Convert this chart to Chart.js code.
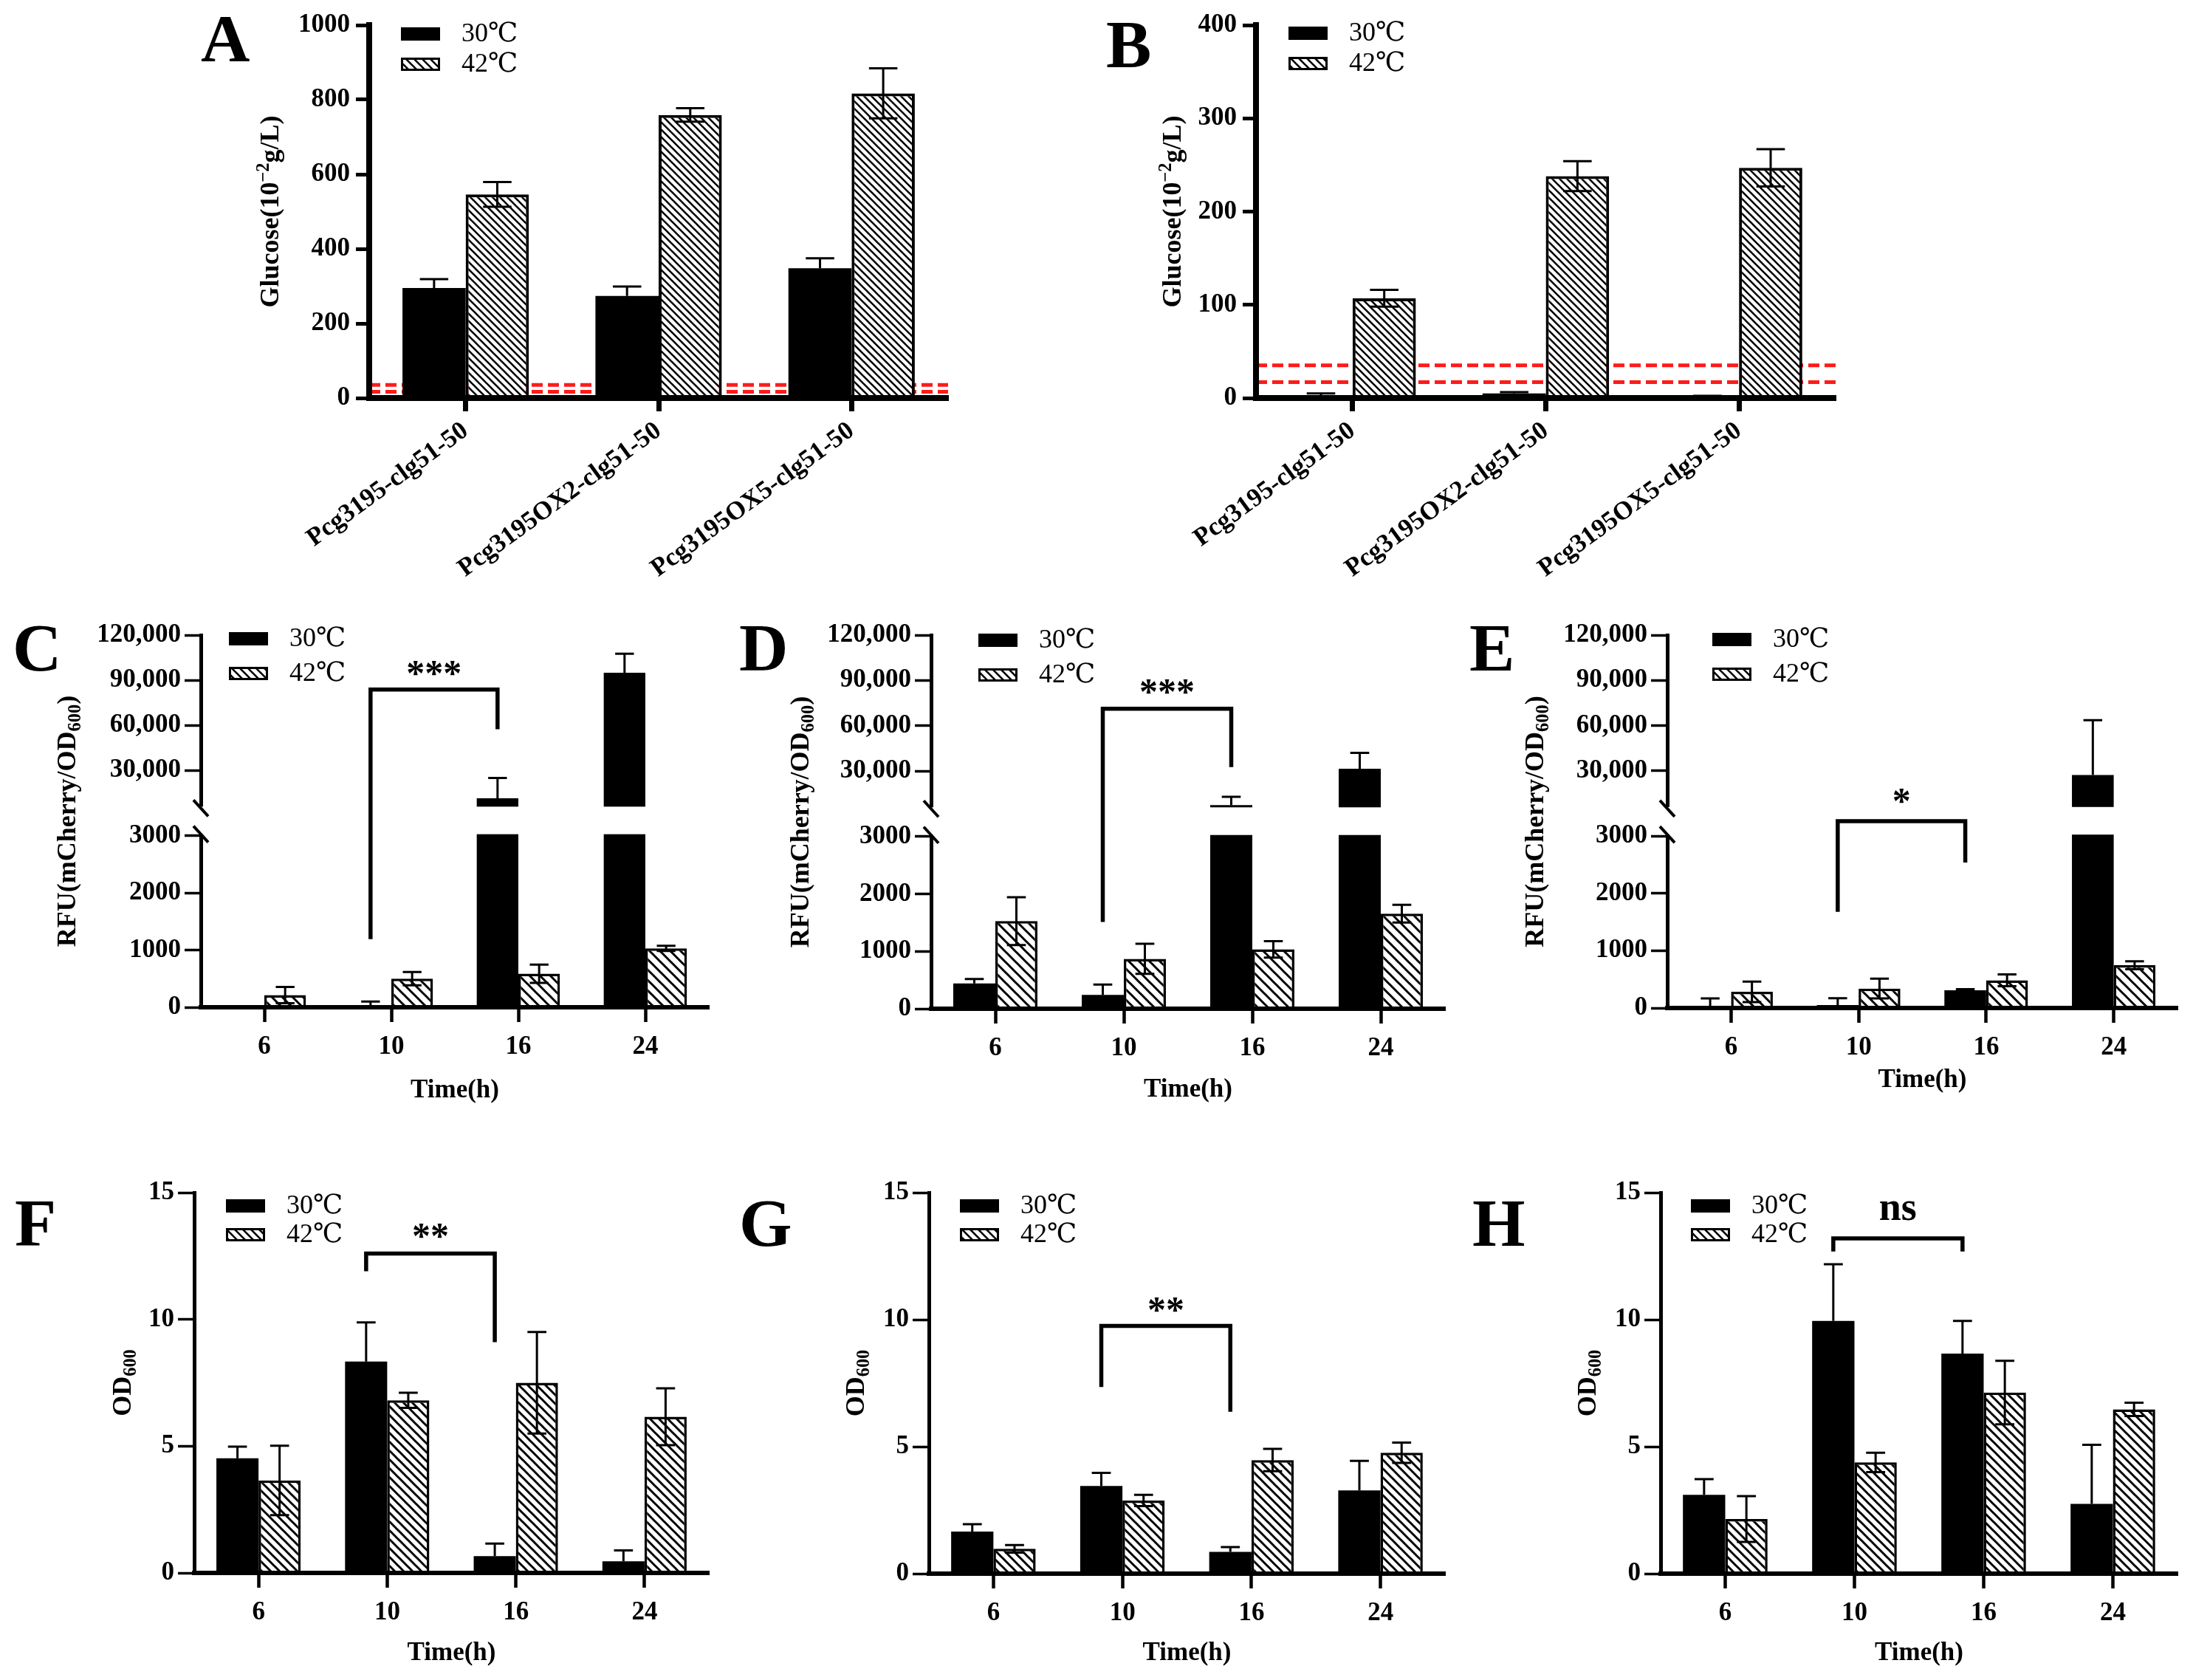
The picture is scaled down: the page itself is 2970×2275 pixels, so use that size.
<!DOCTYPE html>
<html>
<head>
<meta charset="utf-8">
<script src="https://cdn.jsdelivr.net/npm/chart.js@4.4.1/dist/chart.umd.min.js"></script>
<style>
html,body{margin:0;padding:0;background:#fff;}
#page{position:relative;width:2970px;height:2275px;background:#fff;overflow:hidden;}
.letter{position:absolute;font-family:'Liberation Serif','Times New Roman',serif;font-weight:bold;font-size:92px;line-height:1;color:#000;}
</style>
</head>
<body>
<div id="page"></div>
<script>
// ---------------- data ----------------
const glucoseStrains = ['Pcg3195-clg51-50', 'Pcg3195OX2-clg51-50', 'Pcg3195OX5-clg51-50'];
const timeLabels = ['6', '10', '16', '24'];
const legendLabels = ['30\u2103', '42\u2103'];
const panelLetters = ['A', 'B', 'C', 'D', 'E', 'F', 'G', 'H'];

const glucoseA30 = [295, 274, 348];
const glucoseA30Err = [24, 25, 27];
const glucoseA42 = [546, 759, 817];
const glucoseA42Err = [33, 18, 67];

const glucoseB30 = [2.8, 5, 2];
const glucoseB30Err = [2.2, 1.3, 0.3];
const glucoseB42 = [107, 238, 247];
const glucoseB42Err = [9, 16, 20];

const glucoseThresholds = [17, 35];

const rfuC30 = [30, 10, 11600, 95000];
const rfuC30Err = [0, 90, 13400, 12600];
const rfuC42 = [213, 500, 586, 1029];
const rfuC42Err = [143, 115, 161, 46];

const rfuD30 = [440, 241, 7500, 31500];
const rfuD30Err = [77, 179, 5500, 10500];
const rfuD42 = [1526, 869, 1034, 1655];
const rfuD42Err = [417, 262, 144, 155];

const rfuE30 = [0, 52, 310, 27200];
const rfuE30Err = [167, 120, 18, 36400];
const rfuE42 = [282, 339, 483, 747];
const rfuE42Err = [178, 172, 103, 69];

const odF30 = [4.52, 8.34, 0.66, 0.46];
const odF30Err = [0.46, 1.54, 0.5, 0.43];
const odF42 = [3.65, 6.81, 7.5, 6.16];
const odF42Err = [1.37, 0.3, 2.0, 1.12];

const odG30 = [1.66, 3.45, 0.86, 3.28];
const odG30Err = [0.29, 0.52, 0.19, 1.16];
const odG42 = [0.98, 2.88, 4.47, 4.76];
const odG42Err = [0.15, 0.22, 0.44, 0.4];

const odH30 = [3.1, 9.95, 8.66, 2.75];
const odH30Err = [0.62, 2.23, 1.29, 2.32];
const odH42 = [2.15, 4.38, 7.13, 6.47];
const odH42Err = [0.9, 0.38, 1.25, 0.26];

// brackets: [from category, to category, left foot, right foot, top, label, label position]
const bracketC = [1, 2, 1190, 57500, 83800, '***', 98000];
const bracketD = [1, 2, 1510, 32600, 71300, '***', 86000];
const bracketE = [1, 2, 1680, 2540, 4530, '*', 13700];
const bracketF = [1, 2, 11.9, 9.1, 12.6, '**', 13.5];
const bracketG = [1, 2, 7.35, 6.37, 9.75, '**', 10.6];
const bracketH = [1, 2, 12.68, 12.68, 13.2, 'ns', 14.3];

const rfuTicks = [0, 1000, 2000, 3000, 30000, 60000, 90000, 120000];
const rfuBreak = {lowMax: 3000, highMin: 6000, max: 120000};

const glucoseTitle = [['Glucose(10', 0], ['\u22122', 1], ['g/L)', 0]];
const rfuTitle = [['RFU(mCherry/OD', 0], ['600', -1], [')', 0]];
const odTitle = [['OD', 0], ['600', -1]];
const timeTitle = 'Time(h)';

// ---------------- setup ----------------
const FONT = "'Liberation Serif', 'Times New Roman', 'DejaVu Serif', serif";
Chart.defaults.font.family = FONT;
Chart.defaults.color = '#000';

class BrokenLinearScale extends Chart.LinearScale {
  determineDataLimits() {
    this.min = this.options.min;
    this.max = this.options.max;
  }
  buildTicks() {
    return this.options.customTicks.map(v => ({value: v}));
  }
  _frac(value) {
    const b = this.options.brk;
    const f1 = b.lowFrac, f2 = b.lowFrac + b.gapFrac;
    if (value <= b.lowMax) return (value - this.min) / (b.lowMax - this.min) * f1;
    if (value <= b.highMin) return f1 + (value - b.lowMax) / (b.highMin - b.lowMax) * (f2 - f1);
    return f2 + (value - b.highMin) / (this.max - b.highMin) * (1 - f2);
  }
  getPixelForValue(value) {
    return this.getPixelForDecimal(this._frac(value));
  }
  getValueForPixel(pixel) {
    const d = this.getDecimalForPixel(pixel);
    const b = this.options.brk;
    const f1 = b.lowFrac, f2 = b.lowFrac + b.gapFrac;
    if (d <= f1) return this.min + d / f1 * (b.lowMax - this.min);
    if (d <= f2) return b.lowMax + (d - f1) / (f2 - f1) * (b.highMin - b.lowMax);
    return b.highMin + (d - f2) / (1 - f2) * (this.max - b.highMin);
  }
}
BrokenLinearScale.id = 'brokenLinear';
BrokenLinearScale.defaults = {};
Chart.register(BrokenLinearScale);

function hatchPattern(spacing, lw) {
  const c = document.createElement('canvas');
  c.width = spacing; c.height = spacing;
  const g = c.getContext('2d');
  g.fillStyle = '#fff';
  g.fillRect(0, 0, spacing, spacing);
  g.strokeStyle = '#000';
  g.lineWidth = lw;
  for (let k = -1; k <= 1; k++) {
    g.beginPath();
    g.moveTo(-spacing, -spacing + k * spacing);
    g.lineTo(2 * spacing, 2 * spacing + k * spacing);
    g.stroke();
  }
  return g.createPattern(c, 'repeat');
}

function fmtTick(v) {
  const s = String(v);
  if (v < 10000) return s;
  return s.replace(/\B(?=(\d{3})+(?!\d))/g, ',');
}

function drawRich(ctx, segs, cx, cy, fs, rotate) {
  ctx.save();
  ctx.translate(cx, cy);
  if (rotate) ctx.rotate(-Math.PI / 2);
  let total = 0;
  const parts = segs.map(([t, mode]) => {
    const size = mode ? fs * 0.68 : fs;
    ctx.font = `bold ${size}px ${FONT}`;
    const w = ctx.measureText(t).width;
    total += w;
    return {t, mode, size, w};
  });
  let x = -total / 2;
  ctx.textAlign = 'left';
  ctx.textBaseline = 'alphabetic';
  ctx.fillStyle = '#000';
  const base = fs * 0.33;
  for (const p of parts) {
    ctx.font = `bold ${p.size}px ${FONT}`;
    const dy = p.mode === 1 ? -fs * 0.36 : (p.mode === -1 ? fs * 0.2 : 0);
    ctx.fillText(p.t, x, base + dy);
    x += p.w;
  }
  ctx.restore();
}

const thickA = {axisW: [8, 8], tickW: [5, 7], tickLen: [18, 18], barBorder: 4, hatch: 10};
const thinC = {axisW: [5, 6], tickW: [3.5, 4.5], tickLen: [22, 20], barBorder: 3.5};

const panels = [
  Object.assign({canvas: [250, 0, 1080, 840], area: [500, 34, 1284, 539], cats: glucoseStrains,
   s30: glucoseA30, e30: glucoseA30Err, s42: glucoseA42, e42: glucoseA42Err,
   yMax: 1000, yStep: 200, ref: glucoseThresholds, title: glucoseTitle, titleDx: -135,
   legend: [43, 3, 41], rot: 36, letter: [274, 22], tickPad: 8}, thickA),
  Object.assign({canvas: [1460, 0, 1060, 840], area: [1701, 34, 2486, 539], cats: glucoseStrains,
   s30: glucoseB30, e30: glucoseB30Err, s42: glucoseB42, e42: glucoseB42Err,
   yMax: 400, yStep: 100, ref: glucoseThresholds, title: glucoseTitle, titleDx: -114,
   legend: [44, 2, 41], rot: 36, letter: [1500, 30], tickPad: 8}, thickA),
  Object.assign({canvas: [0, 800, 985, 740], area: [272, 860, 960, 1364], cats: timeLabels,
   s30: rfuC30, e30: rfuC30Err, s42: rfuC42, e42: rfuC42Err, broken: true,
   bracket: bracketC, title: rfuTitle, titleDx: -182, xTitleDy: 113,
   legend: [38, -4, 47], hatch: 14, letter: [19, 847], tickPad: 5}, thinC),
  Object.assign({canvas: [985, 800, 995, 740], area: [1261, 860, 1957, 1366], cats: timeLabels,
   s30: rfuD30, e30: rfuD30Err, s42: rfuD42, e42: rfuD42Err, broken: true,
   bracket: bracketD, title: rfuTitle, titleDx: -178, xTitleDy: 110,
   legend: [64, -2, 47], hatch: 14, letter: [1003, 847], tickPad: 5}, thinC),
  Object.assign({canvas: [1980, 800, 990, 740], area: [2258, 860, 2949, 1365], cats: timeLabels,
   s30: rfuE30, e30: rfuE30Err, s42: rfuE42, e42: rfuE42Err, broken: true,
   bracket: bracketE, title: rfuTitle, titleDx: -180, xTitleDy: 98,
   legend: [61, -3, 47], hatch: 14, letter: [1992, 847], tickPad: 5}, thinC),
  Object.assign({canvas: [0, 1545, 985, 730], area: [263, 1615, 960, 2130], cats: timeLabels,
   s30: odF30, e30: odF30Err, s42: odF42, e42: odF42Err, yMax: 15, yStep: 5,
   bracket: bracketF, title: odTitle, titleDx: -98, xTitleDy: 109,
   legend: [43, 9, 39], hatch: 12, letter: [22, 1626], tickPad: 5}, thinC),
  Object.assign({canvas: [985, 1545, 995, 730], area: [1258, 1615, 1957, 2131], cats: timeLabels,
   s30: odG30, e30: odG30Err, s42: odG42, e42: odG42Err, yMax: 15, yStep: 5,
   bracket: bracketG, title: odTitle, titleDx: -100, xTitleDy: 108,
   legend: [42, 9, 39], hatch: 12, letter: [1003, 1626], tickPad: 5}, thinC),
  Object.assign({canvas: [1980, 1545, 990, 730], area: [2249, 1615, 2949, 2131], cats: timeLabels,
   s30: odH30, e30: odH30Err, s42: odH42, e42: odH42Err, yMax: 15, yStep: 5,
   bracket: bracketH, title: odTitle, titleDx: -100, xTitleDy: 108,
   legend: [41, 9, 39], hatch: 12, letter: [1996, 1626], tickPad: 5}, thinC)
];

const page = document.getElementById('page');

function deco(p, legendPattern) {
  return {
    id: 'deco',
    beforeDatasetsDraw(chart) {
      if (!p.ref) return;
      const {ctx, chartArea: a} = chart;
      const y = chart.scales.y;
      ctx.save();
      ctx.strokeStyle = '#ff1a1a';
      ctx.lineWidth = 5;
      ctx.setLineDash([15, 7]);
      for (const v of p.ref) {
        const py = y.getPixelForValue(v);
        ctx.beginPath();
        ctx.moveTo(a.left, py);
        ctx.lineTo(a.right, py);
        ctx.stroke();
      }
      ctx.restore();
    },
    afterDatasetsDraw(chart) {
      const {ctx} = chart;
      const y = chart.scales.y;
      ctx.save();
      ctx.strokeStyle = '#000';
      ctx.lineWidth = 3;
      chart.data.datasets.forEach((ds, i) => {
        const meta = chart.getDatasetMeta(i);
        meta.data.forEach((bar, j) => {
          const v = ds.data[j], e = ds.errorBars[j];
          if (!e) return;
          const x = bar.x, cap = bar.width * 0.45;
          const yTop = y.getPixelForValue(v + e);
          const low = Math.max(v - e, 0);
          const yBot = ds.bothSides ? y.getPixelForValue(low) : y.getPixelForValue(v);
          ctx.beginPath();
          ctx.moveTo(x, yBot);
          ctx.lineTo(x, yTop);
          ctx.moveTo(x - cap / 2, yTop);
          ctx.lineTo(x + cap / 2, yTop);
          if (ds.bothSides && low > 0) {
            ctx.moveTo(x - cap / 2, yBot);
            ctx.lineTo(x + cap / 2, yBot);
          }
          ctx.stroke();
        });
      });
      ctx.restore();
    },
    afterDraw(chart) {
      const {ctx, chartArea: a} = chart;
      const y = chart.scales.y;
      ctx.save();
      if (p.broken) {
        const p3 = y.getPixelForValue(rfuBreak.lowMax);
        const p6 = y.getPixelForValue(rfuBreak.highMin);
        ctx.fillStyle = '#fff';
        ctx.fillRect(a.left - 4, p6, a.right - a.left + 10, p3 - p6 - 2);
        ctx.strokeStyle = '#000';
        ctx.lineWidth = 4;
        for (const py of [p3 - 2, p6 + 2]) {
          ctx.beginPath();
          ctx.moveTo(a.left - 10, py - 11);
          ctx.lineTo(a.left + 10, py + 11);
          ctx.stroke();
        }
      }
      if (p.bracket) {
        const [i1, i2, f1, f2, top, label, ly] = p.bracket;
        const bars = chart.getDatasetMeta(0).data;
        const x1 = bars[i1].x, x2 = bars[i2].x;
        ctx.strokeStyle = '#000';
        ctx.lineWidth = 5.5;
        ctx.lineJoin = 'miter';
        ctx.lineCap = 'butt';
        ctx.beginPath();
        ctx.moveTo(x1, y.getPixelForValue(f1));
        ctx.lineTo(x1, y.getPixelForValue(top));
        ctx.lineTo(x2, y.getPixelForValue(top));
        ctx.lineTo(x2, y.getPixelForValue(f2));
        ctx.stroke();
        const star = label.indexOf('*') >= 0;
        const fs = star ? 50 : 54;
        ctx.font = `bold ${fs}px ${FONT}`;
        ctx.fillStyle = '#000';
        ctx.textAlign = 'center';
        ctx.textBaseline = 'alphabetic';
        const k = star ? 0.47 : 0.23;
        ctx.fillText(label, (x1 + x2) / 2, y.getPixelForValue(ly) + k * fs);
      }
      // legend
      const [dx, dy, gap] = p.legend;
      const bx = a.left + dx, by = a.top + dy, bw = 53, bh = 18;
      ctx.fillStyle = '#000';
      ctx.fillRect(bx, by, bw, bh);
      ctx.fillStyle = legendPattern;
      ctx.fillRect(bx, by + gap, bw, bh);
      ctx.strokeStyle = '#000';
      ctx.lineWidth = 3;
      ctx.strokeRect(bx + 1.5, by + gap + 1.5, bw - 3, bh - 3);
      ctx.fillStyle = '#000';
      ctx.font = `36px ${FONT}`;
      ctx.textAlign = 'left';
      ctx.textBaseline = 'middle';
      ctx.fillText(legendLabels[0], bx + 82, by + bh / 2 + 1);
      ctx.fillText(legendLabels[1], bx + 82, by + gap + bh / 2 + 1);
      // titles
      drawRich(ctx, p.title, a.left + p.titleDx, (a.top + a.bottom) / 2, 36, true);
      if (p.xTitleDy) {
        ctx.font = `bold 35px ${FONT}`;
        ctx.textAlign = 'center';
        ctx.textBaseline = 'middle';
        ctx.fillStyle = '#000';
        ctx.fillText(timeTitle, (a.left + a.right) / 2, a.bottom + p.xTitleDy);
      }
      ctx.restore();
    }
  };
}

panels.forEach((p, idx) => {
  const [cx, cy, cw, ch] = p.canvas;
  const [L, T, R, B] = p.area;
  const WY = 160, HX = p.rot ? 290 : 80;
  const cv = document.createElement('canvas');
  cv.width = cw; cv.height = ch;
  cv.style.cssText = `position:absolute;left:${cx}px;top:${cy}px;width:${cw}px;height:${ch}px;`;
  page.appendChild(cv);

  const lt = document.createElement('div');
  lt.className = 'letter';
  lt.textContent = panelLetters[idx];
  lt.style.left = (p.letter[0] - 2) + 'px';
  lt.style.top = (p.letter[1] - 16) + 'px';
  page.appendChild(lt);

  const pattern = hatchPattern(p.hatch, p.rot ? 2.6 : 3);
  const legendPattern = hatchPattern(11, 2.6);

  const yScale = p.broken ? {
    type: 'brokenLinear', min: 0, max: rfuBreak.max, customTicks: rfuTicks,
    brk: {lowMax: rfuBreak.lowMax, highMin: rfuBreak.highMin, lowFrac: 0.461, gapFrac: 0.078}
  } : {type: 'linear', min: 0, max: p.yMax, ticks: {stepSize: p.yStep}};
  Object.assign(yScale, {
    position: 'left',
    afterFit: s => { s.width = WY; },
    border: {display: true, color: '#000', width: p.axisW[0], z: 1},
    grid: {display: true, drawOnChartArea: false, drawTicks: true, tickLength: p.tickLen[0], tickWidth: p.tickW[0], tickColor: '#000', z: 1},
    title: {display: false}
  });
  yScale.ticks = Object.assign(yScale.ticks || {}, {
    autoSkip: false, padding: p.tickPad, color: '#000', z: 1,
    font: {family: FONT, weight: 'bold', size: 35},
    callback: v => fmtTick(v)
  });

  const xScale = {
    type: 'category',
    offset: true,
    afterFit: s => { s.height = HX; },
    border: {display: true, color: '#000', width: p.axisW[1], z: 1},
    grid: {display: true, offset: false, drawOnChartArea: false, drawTicks: true, tickLength: p.tickLen[1], tickWidth: p.tickW[1], tickColor: '#000', z: 1},
    ticks: {
      autoSkip: false, color: '#000', z: 1,
      padding: p.rot ? 6 : 13,
      minRotation: p.rot || 0, maxRotation: p.rot || 0,
      font: {family: FONT, weight: 'bold', size: 35}
    }
  };

  new Chart(cv, {
    type: 'bar',
    data: {
      labels: p.cats,
      datasets: [
        {label: legendLabels[0], data: p.s30, errorBars: p.e30, bothSides: false,
         backgroundColor: '#000', borderWidth: 0},
        {label: legendLabels[1], data: p.s42, errorBars: p.e42, bothSides: true,
         backgroundColor: pattern, borderColor: '#000', borderWidth: p.barBorder}
      ]
    },
    options: {
      responsive: false,
      maintainAspectRatio: false,
      animation: false,
      devicePixelRatio: 1,
      events: [],
      layout: {padding: {left: L - cx - WY, top: T - cy, right: cx + cw - R, bottom: cy + ch - B - HX}},
      datasets: {bar: {categoryPercentage: 0.655, barPercentage: 1.0}},
      plugins: {legend: {display: false}, tooltip: {enabled: false}, title: {display: false}},
      scales: {x: xScale, y: yScale}
    },
    plugins: [deco(p, legendPattern)]
  });
});
</script>
</body>
</html>
